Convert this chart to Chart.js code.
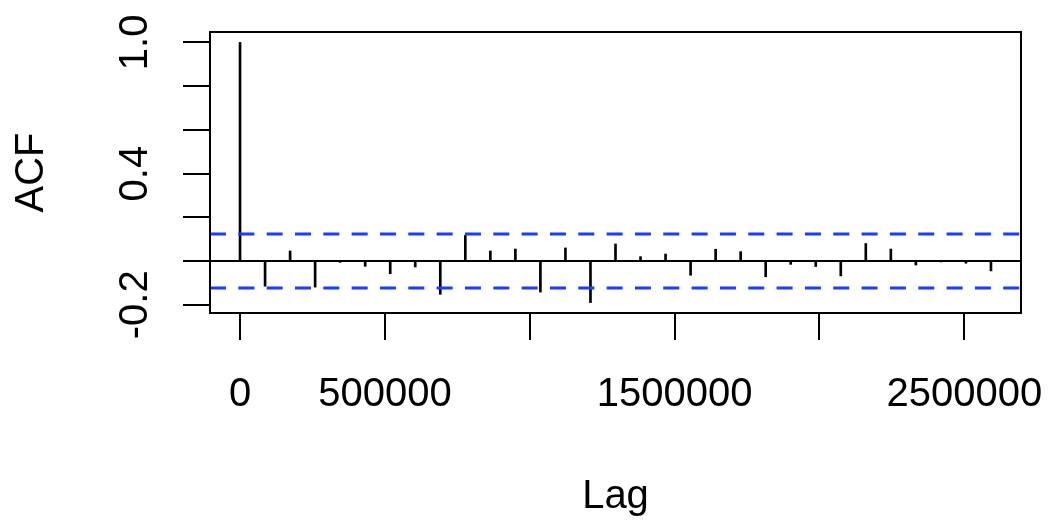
<!DOCTYPE html>
<html>
<head>
<meta charset="utf-8">
<title>ACF</title>
<script src="https://cdn.jsdelivr.net/npm/chart.js@4"></script>
<style>
  html, body { margin: 0; padding: 0; background: #fff; }
  canvas { display: block; }
</style>
</head>
<body>
<canvas id="acfChart" width="1052" height="520"></canvas>
<script>
// lag in seconds (one day per step) and autocorrelation at each lag
const lags = [0, 86400, 172800, 259200, 345600, 432000, 518400, 604800, 691200, 777600,
  864000, 950400, 1036800, 1123200, 1209600, 1296000, 1382400, 1468800, 1555200, 1641600,
  1728000, 1814400, 1900800, 1987200, 2073600, 2160000, 2246400, 2332800, 2419200, 2505600, 2592000];
const acfValues = [1.0, -0.115, 0.046, -0.119, -0.006, -0.024, -0.058, -0.027, -0.152, 0.117,
  0.046, 0.055, -0.142, 0.06, -0.19, 0.078, 0.02, 0.032, -0.065, 0.054,
  0.043, -0.072, -0.015, -0.025, -0.068, 0.08, 0.055, -0.018, -0.004, -0.01, -0.045];
const confLimit = 0.1235;

const xTicks = [0, 500000, 1000000, 1500000, 2000000, 2500000];
const xTickLabels = ['0', '500000', '', '1500000', '', '2500000'];
const yTicks = [-0.2, 0, 0.2, 0.4, 0.6, 0.8, 1.0];
const yTickLabels = ['-0.2', '', '', '0.4', '', '', '1.0'];

const FONT = '40px "Liberation Sans", Arial, sans-serif';

// same 4% padding R uses around the data range
const xLo = Math.min(...lags), xHi = Math.max(...lags);
const xPad = 0.04 * (xHi - xLo);
const yLo = Math.min(...acfValues, -confLimit), yHi = Math.max(...acfValues, confLimit);
const yPad = 0.04 * (yHi - yLo);
const xMin = xLo - xPad, xMax = xHi + xPad;

const points = lags.map((lag, i) => ({ x: lag, y: acfValues[i] }));

function hline(y, color, width, dash) {
  return {
    type: 'line',
    data: [{ x: xMin, y: y }, { x: xMax, y: y }],
    borderColor: color,
    borderWidth: width,
    borderDash: dash,
    pointRadius: 0,
    fill: false,
  };
}

const rAxes = {
  id: 'rAxes',
  afterDraw(chart) {
    const ctx = chart.ctx;
    const area = chart.chartArea;
    const xs = chart.scales.x;
    const ys = chart.scales.y;

    ctx.save();
    ctx.strokeStyle = '#000';
    ctx.fillStyle = '#000';
    ctx.lineWidth = 2;
    ctx.strokeRect(area.left, area.top, area.right - area.left, area.bottom - area.top);

    // x axis
    ctx.beginPath();
    ctx.moveTo(xs.getPixelForValue(xTicks[0]), area.bottom);
    ctx.lineTo(xs.getPixelForValue(xTicks[xTicks.length - 1]), area.bottom);
    xTicks.forEach(function (t) {
      const px = Math.round(xs.getPixelForValue(t));
      ctx.moveTo(px, area.bottom);
      ctx.lineTo(px, area.bottom + 27);
    });
    ctx.stroke();

    ctx.font = FONT;
    ctx.textAlign = 'center';
    ctx.textBaseline = 'alphabetic';
    xTicks.forEach(function (t, i) {
      if (xTickLabels[i]) ctx.fillText(xTickLabels[i], xs.getPixelForValue(t), 406);
    });
    ctx.fillText('Lag', (area.left + area.right) / 2, 508);

    // y axis
    ctx.beginPath();
    ctx.moveTo(area.left, ys.getPixelForValue(yTicks[0]));
    ctx.lineTo(area.left, ys.getPixelForValue(yTicks[yTicks.length - 1]));
    yTicks.forEach(function (t) {
      const py = Math.round(ys.getPixelForValue(t));
      ctx.moveTo(area.left, py);
      ctx.lineTo(area.left - 27, py);
    });
    ctx.stroke();

    yTicks.forEach(function (t, i) {
      if (!yTickLabels[i]) return;
      ctx.save();
      ctx.translate(147, ys.getPixelForValue(t));
      ctx.rotate(-Math.PI / 2);
      ctx.fillText(yTickLabels[i], 0, 0);
      ctx.restore();
    });

    ctx.save();
    ctx.translate(43, (area.top + area.bottom) / 2);
    ctx.rotate(-Math.PI / 2);
    ctx.fillText('ACF', 0, 0);
    ctx.restore();

    ctx.restore();
  }
};

const ctx = document.getElementById('acfChart').getContext('2d');

const chart = new Chart(ctx, {
  type: 'bar',
  data: {
    datasets: [
      hline(0, '#000', 2, []),
      hline(confLimit, '#1a3cff', 3, [16, 12.33]),
      hline(-confLimit, '#1a3cff', 3, [16, 12.33]),
      {
        type: 'bar',
        data: points,
        backgroundColor: '#000',
        borderWidth: 0,
        barThickness: 2,
      },
    ],
  },
  options: {
    responsive: false,
    animation: false,
    devicePixelRatio: 1,
    layout: {
      padding: { left: 210, right: 31, top: 32, bottom: 207 },
    },
    scales: {
      x: { type: 'linear', min: xMin, max: xMax, offset: false, display: false },
      y: { type: 'linear', min: yLo - yPad, max: yHi + yPad, display: false },
    },
    plugins: {
      legend: { display: false },
      tooltip: { enabled: false },
    },
  },
  plugins: [rAxes],
});
</script>
</body>
</html>
